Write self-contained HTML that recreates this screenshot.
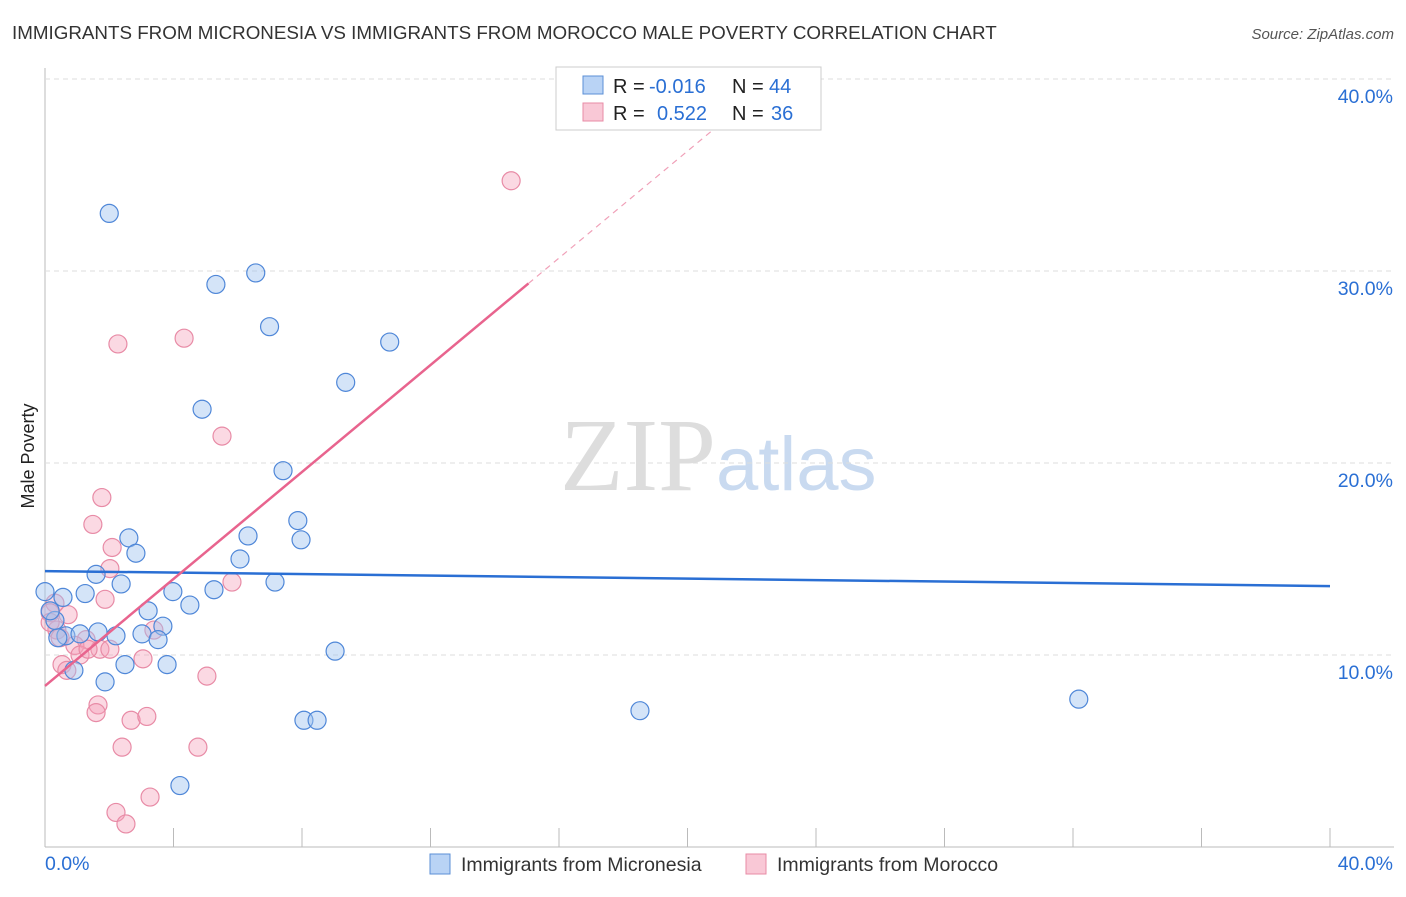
<!DOCTYPE html>
<html><head><meta charset="utf-8"><style>
body{margin:0;background:#fff;font-family:"Liberation Sans",sans-serif}
</style></head><body>
<svg id="chart" width="1406" height="892" font-family="Liberation Sans, sans-serif">
<text x="12" y="39" font-size="18.8" fill="#333">IMMIGRANTS FROM MICRONESIA VS IMMIGRANTS FROM MOROCCO MALE POVERTY CORRELATION CHART</text>
<text x="1394" y="39" font-size="15" fill="#555" font-style="italic" text-anchor="end">Source: ZipAtlas.com</text>
<text x="34" y="456" font-size="18" fill="#222" transform="rotate(-90 34 456)" text-anchor="middle">Male Poverty</text>
<text x="716" y="490" font-size="104" fill="#ddd" text-anchor="end" font-family="Liberation Serif, serif">ZIP</text>
<text x="716" y="490" font-size="76" fill="#c9daf0">atlas</text>
<g id="grid"></g><g id="marks"></g>
<g>
<rect x="556" y="67" width="265" height="63" fill="#fff" stroke="#ccc"/>
<rect x="583" y="76" width="20" height="18" fill="#b9d3f5" stroke="#5b8fd6"/>
<rect x="583" y="103" width="20" height="18" fill="#f9c8d6" stroke="#e88ba6"/>
<g font-size="20" fill="#222">
<text x="613" y="93">R =</text><text x="649" y="93" fill="#2a6fd4">-0.016</text><text x="732" y="93">N =</text><text x="769" y="93" fill="#2a6fd4">44</text>
<text x="613" y="120">R =</text><text x="657" y="120" fill="#2a6fd4">0.522</text><text x="732" y="120">N =</text><text x="771" y="120" fill="#2a6fd4">36</text>
</g>
</g>
<g>
<rect x="430" y="854" width="20" height="20" fill="#b9d3f5" stroke="#5b8fd6"/>
<text x="461" y="871" font-size="19.5" fill="#333">Immigrants from Micronesia</text>
<rect x="746" y="854" width="20" height="20" fill="#f9c8d6" stroke="#e88ba6"/>
<text x="777" y="871" font-size="19.5" fill="#333">Immigrants from Morocco</text>
</g>
</svg>
<script>
const xTickLabels=["0.0%","40.0%"];
const yTicks=[10,20,30,40];
const blueX=[2.0,6.56,5.32,6.99,10.73,9.36,4.89,7.41,7.87,7.97,2.61,2.83,6.32,6.07,1.59,2.37,7.16,5.26,3.98,1.25,0.56,0,4.51,3.21,3.67,1.65,3.02,2.21,3.52,0.65,1.09,0.40,0.31,9.03,2.49,3.80,0.90,1.87,8.06,8.47,18.52,32.18,4.20,0.16];
const blueY=[33.0,29.9,29.3,27.1,26.3,24.2,22.8,19.6,17.0,16.0,16.1,15.3,16.2,15.0,14.2,13.7,13.8,13.4,13.3,13.2,13.0,13.3,12.6,12.3,11.5,11.2,11.1,11.0,10.8,11.0,11.1,10.9,11.8,10.2,9.5,9.5,9.2,8.6,6.6,6.6,7.1,7.7,3.2,12.3];
const pinkX=[14.51,4.33,2.27,5.51,1.77,1.49,2.09,2.02,5.82,0.72,0.31,0.16,0.37,0.16,0.47,1.28,0.93,1.71,1.09,2.02,3.05,1.34,3.39,0.53,0.68,5.04,1.65,1.59,2.68,3.17,2.40,4.76,3.27,2.21,2.52,1.87];
const pinkY=[34.7,26.5,26.2,21.4,18.2,16.8,15.6,14.5,13.8,12.1,12.7,12.2,11.3,11.7,10.9,10.8,10.5,10.3,10.0,10.3,9.8,10.3,11.3,9.5,9.2,8.9,7.4,7.0,6.6,6.8,5.2,5.2,2.6,1.8,1.2,12.9];
const blueTrend=[14.37,13.59];
const pinkTrend=[8.39,64.1];
const ns="http://www.w3.org/2000/svg";
const X0=45,X1=1330,Y0=847,PPU=19.2;
const sx=v=>X0+(X1-X0)*v/40, sy=v=>Y0-v*PPU;
function mk(t,a,p){const e=document.createElementNS(ns,t);for(const k in a)e.setAttribute(k,a[k]);p.appendChild(e);return e;}
const g=document.getElementById('grid'),m=document.getElementById('marks');
let ax=mk('line',{x1:X0,x2:X0,y1:68,y2:847,stroke:'#bbb'},g);

let bx=mk('line',{x1:X0,x2:1394,y1:847,y2:847,stroke:'#bbb'},g);

for(let i=1;i<=10;i++){let t=mk('line',{x1:sx(i*4),x2:sx(i*4),y1:828,y2:847,stroke:'#bbb'},g);}
yTicks.forEach(v=>{let l=mk('line',{x1:X0,x2:1394,y1:sy(v),y2:sy(v),stroke:'#ddd','stroke-dasharray':'5,4'},g);

let t=mk('text',{x:1393,y:sy(v)+24,'font-size':19.5,fill:'#2a6fd4','text-anchor':'end'},g);t.textContent=v.toFixed(1)+'%';
});
let xl0=mk('text',{x:45,y:870,'font-size':19.5,fill:'#2a6fd4'},g);xl0.textContent=xTickLabels[0];

let xl1=mk('text',{x:1393,y:870,'font-size':19.5,fill:'#2a6fd4','text-anchor':'end'},g);xl1.textContent=xTickLabels[1];

pinkX.forEach((x,i)=>{let c=mk('circle',{cx:sx(x),cy:sy(pinkY[i]),r:9,fill:'rgba(244,160,185,0.4)',stroke:'#e88ba6','stroke-width':1.2},m);
});
blueX.forEach((x,i)=>{let c=mk('circle',{cx:sx(x),cy:sy(blueY[i]),r:9,fill:'rgba(160,195,240,0.45)',stroke:'#4f87d8','stroke-width':1.2},m);
});
let bl=mk('line',{x1:sx(0),y1:sy(blueTrend[0]),x2:sx(40),y2:sy(blueTrend[1]),stroke:'#2a6fd4','stroke-width':2.5},m);

const ps=(pinkTrend[1]-pinkTrend[0])/40, pe=15.05, pd=21.5;
let pl=mk('line',{x1:sx(0),y1:sy(pinkTrend[0]),x2:sx(pe),y2:sy(pinkTrend[0]+ps*pe),stroke:'#e8648e','stroke-width':2.5},m);

let pdl=mk('line',{x1:sx(pe),y1:sy(pinkTrend[0]+ps*pe),x2:sx(pd),y2:sy(pinkTrend[0]+ps*pd),stroke:'#f0a0b8','stroke-width':1.2,'stroke-dasharray':'6,5'},m);

</script>
</body></html>
